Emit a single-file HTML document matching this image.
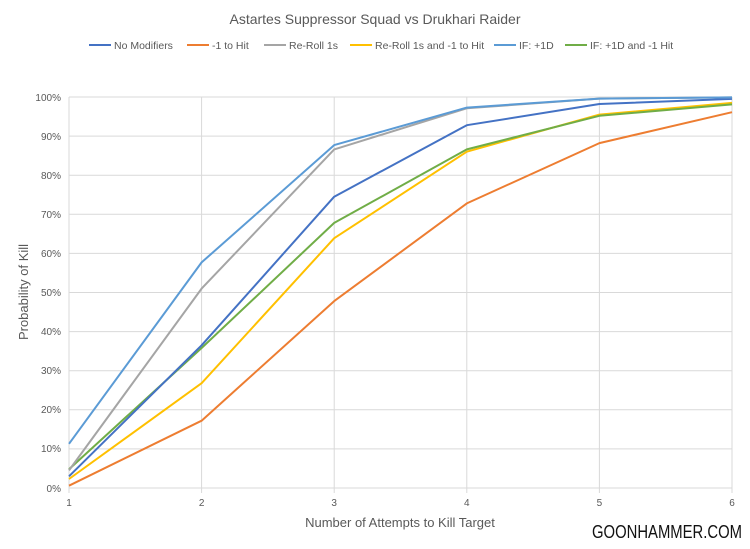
<!DOCTYPE html>
<html><head><style>
body{margin:0;background:#fff;}
svg text{font-family:"Liberation Sans",sans-serif;}
</style></head><body>
<svg width="750" height="544" xmlns="http://www.w3.org/2000/svg">
<rect width="750" height="544" fill="#fff"/>
<text x="375" y="24" text-anchor="middle" font-size="14" fill="#595959">Astartes Suppressor Squad vs Drukhari Raider</text>
<g font-size="10.5" fill="#595959">
<line x1="89" y1="45" x2="111" y2="45" stroke="#4472C4" stroke-width="2"/><text x="114" y="49">No Modifiers</text>
<line x1="187" y1="45" x2="209" y2="45" stroke="#ED7D31" stroke-width="2"/><text x="212" y="49">-1 to Hit</text>
<line x1="264" y1="45" x2="286" y2="45" stroke="#A5A5A5" stroke-width="2"/><text x="289" y="49">Re-Roll 1s</text>
<line x1="350" y1="45" x2="372" y2="45" stroke="#FFC000" stroke-width="2"/><text x="375" y="49">Re-Roll 1s and -1 to Hit</text>
<line x1="494" y1="45" x2="516" y2="45" stroke="#5B9BD5" stroke-width="2"/><text x="519" y="49">IF: +1D</text>
<line x1="565" y1="45" x2="587" y2="45" stroke="#70AD47" stroke-width="2"/><text x="590" y="49">IF: +1D and -1 Hit</text>
</g>
<g stroke="#d9d9d9" stroke-width="1">
<line x1="69" y1="97" x2="732" y2="97"/><line x1="69" y1="136.1" x2="732" y2="136.1"/><line x1="69" y1="175.2" x2="732" y2="175.2"/><line x1="69" y1="214.3" x2="732" y2="214.3"/><line x1="69" y1="253.4" x2="732" y2="253.4"/><line x1="69" y1="292.5" x2="732" y2="292.5"/><line x1="69" y1="331.6" x2="732" y2="331.6"/><line x1="69" y1="370.7" x2="732" y2="370.7"/><line x1="69" y1="409.8" x2="732" y2="409.8"/><line x1="69" y1="448.9" x2="732" y2="448.9"/><line x1="69" y1="488" x2="732" y2="488"/>
<line x1="69" y1="97" x2="69" y2="493"/><line x1="201.6" y1="97" x2="201.6" y2="493"/><line x1="334.2" y1="97" x2="334.2" y2="493"/><line x1="466.8" y1="97" x2="466.8" y2="493"/><line x1="599.4" y1="97" x2="599.4" y2="493"/><line x1="732" y1="97" x2="732" y2="493"/>
</g>
<g font-size="10" fill="#595959" text-anchor="end">
<text x="61" y="101">100%</text><text x="61" y="140">90%</text><text x="61" y="179">80%</text><text x="61" y="218">70%</text><text x="61" y="257">60%</text><text x="61" y="296">50%</text><text x="61" y="335">40%</text><text x="61" y="374">30%</text><text x="61" y="413">20%</text><text x="61" y="452">10%</text><text x="61" y="492">0%</text>
</g>
<g font-size="10" fill="#595959" text-anchor="middle">
<text x="69" y="506">1</text><text x="201.6" y="506">2</text><text x="334.2" y="506">3</text><text x="466.8" y="506">4</text><text x="599.4" y="506">5</text><text x="732" y="506">6</text>
</g>
<text x="400" y="527" text-anchor="middle" font-size="13" fill="#595959">Number of Attempts to Kill Target</text>
<text transform="translate(28,292) rotate(-90)" text-anchor="middle" font-size="13" fill="#595959">Probability of Kill</text>
<g fill="none" stroke-width="2" stroke-linejoin="round">
<polyline stroke="#ED7D31" points="69,485.7 201.6,420.7 334.2,301.1 466.8,203.4 599.4,143.1 732,112.2"/>
<polyline stroke="#FFC000" points="69,479 201.6,383.2 334.2,238.2 466.8,151.7 599.4,114.6 732,102.9"/>
<polyline stroke="#70AD47" points="69,469.2 201.6,348 334.2,222.9 466.8,149.4 599.4,115.8 732,104.4"/>
<polyline stroke="#4472C4" points="69,476.3 201.6,345.3 334.2,196.7 466.8,125.2 599.4,104 732,98.9"/>
<polyline stroke="#A5A5A5" points="69,470.4 201.6,288.6 334.2,149.4 466.8,108.3 599.4,98.6 732,97.4"/>
<polyline stroke="#5B9BD5" points="69,443.8 201.6,262.4 334.2,145.1 466.8,107.6 599.4,98.6 732,97.4"/>
</g>
<text x="592" y="538" font-size="18" fill="#111" textLength="150" lengthAdjust="spacingAndGlyphs">GOONHAMMER.COM</text>
</svg>
</body></html>
